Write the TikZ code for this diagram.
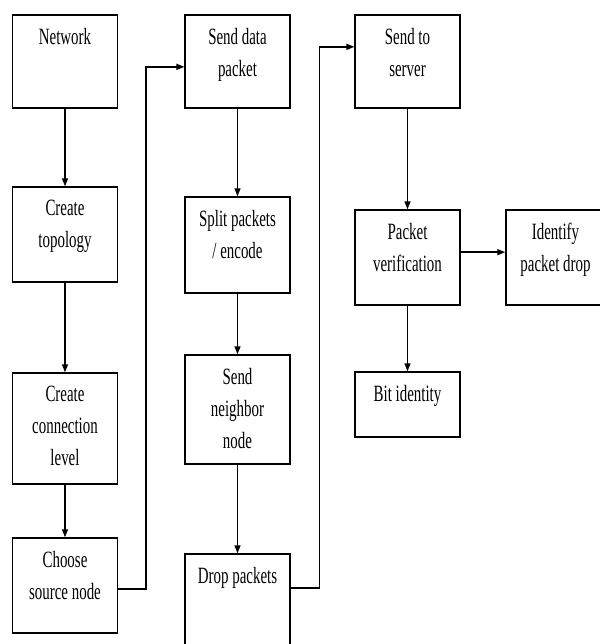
\documentclass[tikz,border=0pt]{standalone}
\usepackage{fontspec}
\setmainfont{Liberation Serif}
\newfontfamily\boxfont[FakeStretch=0.64]{Liberation Serif}
\usetikzlibrary{arrows.meta}

\tikzset{
  stepbox/.style={draw, line width=1.1pt, inner sep=0pt, minimum width=78.5pt},
  boxtext/.style={anchor=north, align=center, inner sep=0pt, yshift=-10.5pt,
    font=\boxfont\fontsize{17.5}{24}\selectfont},
  flow/.style={-{Triangle[length=6pt,width=4.5pt]}, line width=1.1pt}
}

\begin{document}
\begin{tikzpicture}[x=0.75pt, y=-0.75pt]
  \useasboundingbox (0,0) rectangle (600,644);
  \clip (0,0) rectangle (600,644);

  % First column
  \node[stepbox, minimum height=69.75pt, label={[boxtext]north:Network}] (net) at (65,61.5) {};
  \node[stepbox, minimum height=71.25pt, label={[boxtext]north:Create\\topology}] (topo) at (65,234.5) {};
  \node[stepbox, minimum height=83.25pt, label={[boxtext]north:Create\\connection\\level}] (conn) at (65,428.5) {};
  \node[stepbox, minimum height=71.25pt, label={[boxtext]north:Choose\\source node}] (src) at (65,585.5) {};

  % Second column
  \node[stepbox, minimum height=69.75pt, label={[boxtext]north:Send data\\packet}] (send) at (237.5,61.5) {};
  \node[stepbox, minimum height=72pt, label={[boxtext]north:Split packets\\/ encode}] (split) at (237.5,245) {};
  \node[stepbox, minimum height=81.75pt, label={[boxtext]north:Send\\neighbor\\node}] (neigh) at (237.5,409.5) {};
  \node[stepbox, minimum height=79.5pt, label={[boxtext]north:Drop packets}] (drop) at (237.5,607) {};

  % Third column
  \node[stepbox, minimum height=69.75pt, label={[boxtext]north:Send to\\server}] (server) at (407.5,61.5) {};
  \node[stepbox, minimum height=71.25pt, label={[boxtext]north:Packet\\verification}] (verify) at (407.5,257.5) {};
  \node[stepbox, minimum height=48.75pt, label={[boxtext]north:Bit identity}] (bit) at (407.5,404.5) {};

  % Side box
  \node[stepbox, minimum width=74.25pt, minimum height=71.25pt, label={[boxtext]north:Identify\\packet drop}] (ident) at (555.5,257.5) {};

  % Downward arrows
  \foreach \a/\b in {net/topo, topo/conn, conn/src, send/split, split/neigh, neigh/drop, server/verify, verify/bit} {
    \draw[flow] (\a) -- (\b);
  }

  % Column links
  \draw[flow] ([yshift=-2.6pt]src.east) -- ++(28,0) |- ([yshift=-4pt]send.west);
  \draw[flow] ([yshift=-26pt]drop.north east) -- ++(29,0) |- ([yshift=11pt]server.west);
  \draw[flow] ([yshift=4pt]verify.east) -- ([yshift=4pt]ident.west);
\end{tikzpicture}
\end{document}
